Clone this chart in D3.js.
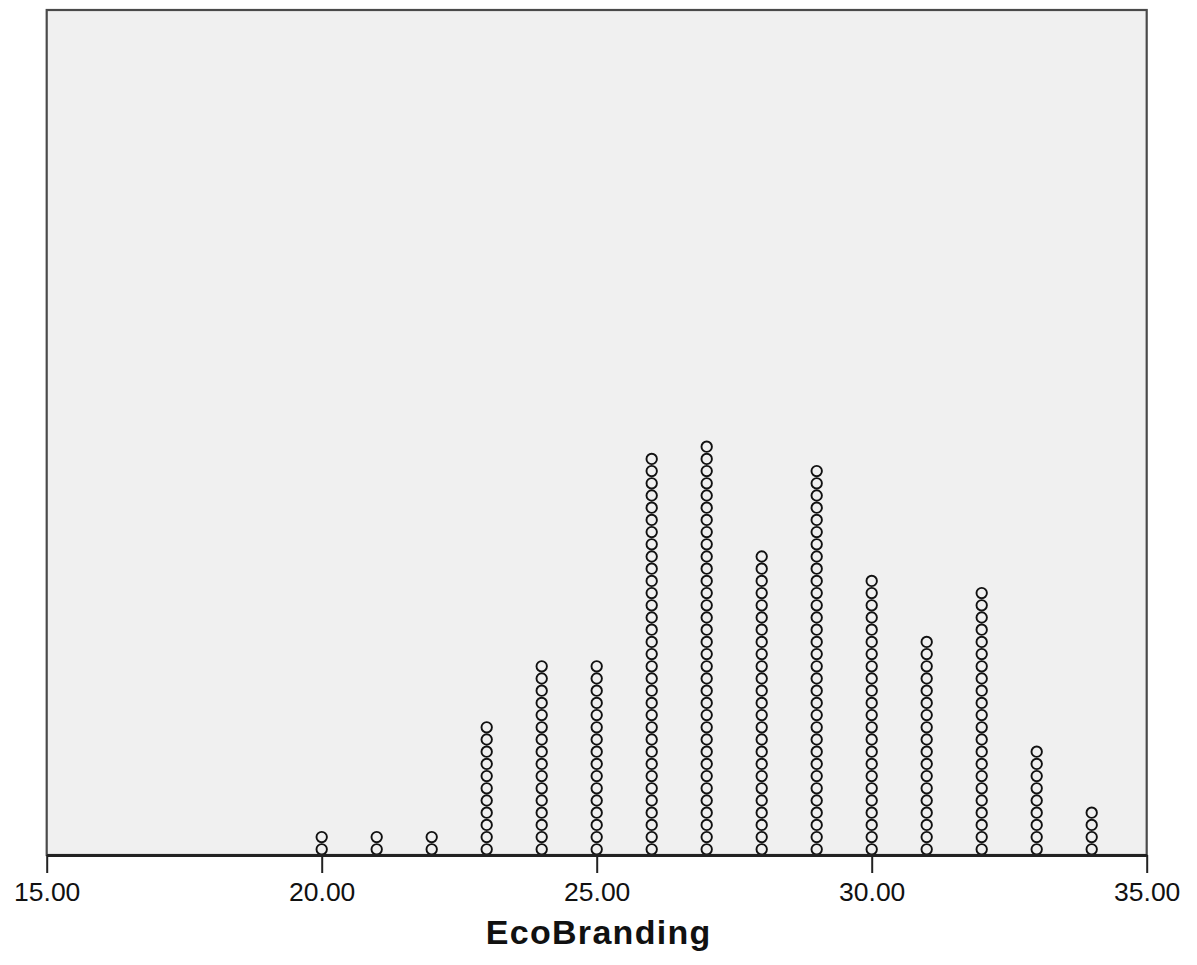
<!DOCTYPE html>
<html>
<head>
<meta charset="utf-8">
<script src="https://cdn.jsdelivr.net/npm/d3@7"></script>
<style>
  html, body { margin: 0; padding: 0; background: #ffffff; }
  svg { display: block; }
</style>
</head>
<body>
<svg id="chart" width="1197" height="965"></svg>
<script>
// EcoBranding scores and how many respondents gave each one
const scores = [20, 21, 22, 23, 24, 25, 26, 27, 28, 29, 30, 31, 32, 33, 34];
const counts = [2, 2, 2, 11, 16, 16, 33, 34, 25, 32, 23, 18, 22, 9, 4];
const tickValues = [15, 20, 25, 30, 35];
const axisTitle = "EcoBranding";

const svg = d3.select("#chart");

const plot = { left: 46.7, right: 1146.7, top: 10, bottom: 855 };

const x = d3.scaleLinear().domain([15, 35]).range([plot.left, plot.right]);
// vertical position of the n-th stacked dot (0 = bottom of the stack)
const stack = d3.scaleLinear().domain([0, 1]).range([849.3, 837.1]);

// plot background and frame
svg.append("rect")
  .attr("x", plot.left)
  .attr("y", plot.top)
  .attr("width", plot.right - plot.left)
  .attr("height", plot.bottom - plot.top)
  .attr("fill", "#f0f0f0")
  .attr("stroke", "#4a4a4a")
  .attr("stroke-width", 2.2);

// one dot per respondent, stacked over its score
const dots = scores.flatMap((s, i) => d3.range(counts[i]).map(k => ({ score: s, k })));

svg.append("g")
  .selectAll("circle")
  .data(dots)
  .join("circle")
  .attr("cx", d => x(d.score))
  .attr("cy", d => stack(d.k))
  .attr("r", 5.2)
  .attr("fill", "#f0f0f0")
  .attr("stroke", "#111")
  .attr("stroke-width", 1.9);

// horizontal axis
const axis = d3.axisBottom(x)
  .tickValues(tickValues)
  .tickFormat(d3.format(".2f"))
  .tickSize(18)
  .tickSizeOuter(0)
  .tickPadding(9);

const gAxis = svg.append("g")
  .attr("transform", `translate(0,${plot.bottom})`)
  .call(axis);

gAxis.select(".domain")
  .attr("stroke", "#222")
  .attr("stroke-width", 3);
gAxis.selectAll(".tick line")
  .attr("stroke", "#222")
  .attr("stroke-width", 2);
gAxis.selectAll(".tick text")
  .attr("fill", "#111")
  .attr("font-family", "Liberation Sans, Arial, sans-serif")
  .attr("font-size", 26.5);

// axis title, centred under the plot
svg.append("text")
  .attr("x", (plot.left + plot.right) / 2 + 2)
  .attr("y", 944)
  .attr("text-anchor", "middle")
  .attr("font-family", "Liberation Sans, Arial, sans-serif")
  .attr("font-weight", "bold")
  .attr("font-size", 34)
  .attr("letter-spacing", 1.3)
  .attr("fill", "#111")
  .text(axisTitle);
</script>
</body>
</html>
